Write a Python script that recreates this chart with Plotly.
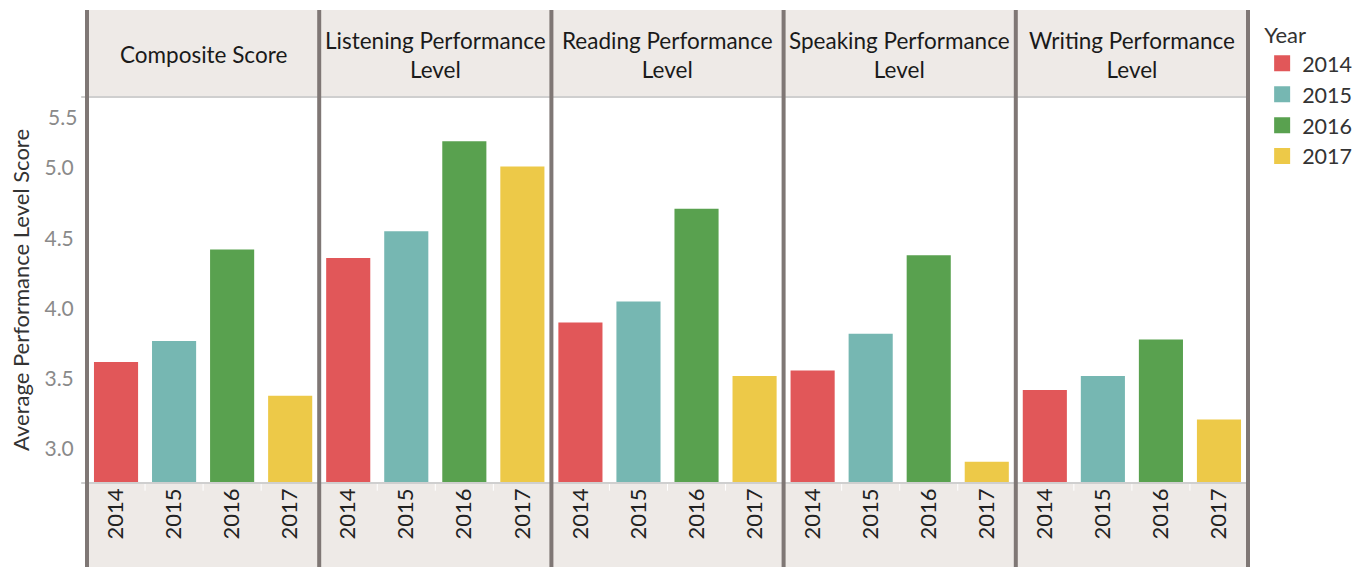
import plotly.graph_objects as go
from plotly.subplots import make_subplots

panels = ["Composite Score", "Listening Performance<br>Level", "Reading Performance<br>Level",
          "Speaking Performance<br>Level", "Writing Performance<br>Level"]
years = ["2014", "2015", "2016", "2017"]
colors = ["#E15759", "#76B7B2", "#59A14F", "#EDC948"]

composite = [3.62, 3.77, 4.42, 3.38]
listening = [4.36, 4.55, 5.19, 5.01]
reading = [3.90, 4.05, 4.71, 3.52]
speaking = [3.56, 3.82, 4.38, 2.91]
writing = [3.42, 3.52, 3.78, 3.21]
series = [composite, listening, reading, speaking, writing]

y_ticks = [3.0, 3.5, 4.0, 4.5, 5.0]
y_top_tick = 5.5
y_range = [2.759, 5.505]

FONT = "Lato"
SEP = "#7F7775"
BAND = "#EEEAE7"
TICK_GREY = "#8a8a8a"

fig = make_subplots(rows=1, cols=5, shared_yaxes=True, horizontal_spacing=0)

for i, vals in enumerate(series):
    fig.add_trace(go.Bar(x=years, y=vals, marker=dict(color=colors, line=dict(width=0)),
                         showlegend=False, hovertemplate="%{x}: %{y:.2f}<extra></extra>"),
                  row=1, col=i + 1)

for yr, c in zip(years, colors):
    fig.add_trace(go.Scatter(x=[None], y=[None], mode="markers", name=yr,
                             marker=dict(symbol="square", size=20, color=c)), row=1, col=1)

for i in range(5):
    ax = "xaxis" if i == 0 else f"xaxis{i+1}"
    fig.layout[ax].update(type="category", tickangle=-90, showgrid=False, zeroline=False,
                          showline=False, ticks="", ticklabelstandoff=0,
                          tickfont=dict(family=FONT, size=22, color="#222222"),
                          fixedrange=True)
    xr = "x domain" if i == 0 else f"x{i+1} domain"
    fig.add_annotation(text=panels[i], xref=xr, x=0.5, yref="paper", y=1.109,
                       showarrow=False, font=dict(family=FONT, size=22.5, color="#1a1a1a"),
                       xanchor="center", yanchor="middle", align="center")
    for k in (0.25, 0.5, 0.75):
        fig.add_shape(type="line", xref=xr, x0=k, x1=k, yref="paper", y0=0, y1=-0.02,
                      line=dict(color="#FFFFFF", width=1), layer="above")

fig.update_yaxes(range=y_range, tickvals=y_ticks, ticktext=[f"{v:.1f}" for v in y_ticks],
                 showgrid=False, zeroline=False, showline=False, fixedrange=True)
fig.update_yaxes(row=1, col=1, ticks="outside", ticklen=8, tickcolor="rgba(0,0,0,0)",
                 tickfont=dict(family=FONT, size=21, color=TICK_GREY),
                 title=dict(text="Average Performance Level Score", standoff=8,
                            font=dict(family=FONT, size=22, color="#333333")))
# top tick label is nudged inside the pane (as Tableau does at the axis edge)
fig.add_annotation(text=f"{y_top_tick:.1f}", xref="paper", x=0, xanchor="right", xshift=-8,
                   yref="y", y=y_top_tick, yanchor="top", yshift=-4, showarrow=False,
                   font=dict(family=FONT, size=21, color=TICK_GREY))

bot_band = -84 / 386
fig.add_shape(type="rect", xref="paper", yref="paper", x0=0, x1=1, y0=1, y1=1.2254,
              fillcolor=BAND, line=dict(width=0), layer="below")
fig.add_shape(type="rect", xref="paper", yref="paper", x0=0, x1=1, y0=bot_band, y1=0,
              fillcolor=BAND, line=dict(width=0), layer="below")
for yv in (0, 1):
    fig.add_shape(type="line", xref="paper", yref="paper", x0=-0.005, x1=1, y0=yv, y1=yv,
                  line=dict(color="#CFCFCF", width=2), layer="above")
for k in range(6):
    fig.add_shape(type="line", xref="paper", yref="paper", x0=k / 5, x1=k / 5,
                  y0=bot_band, y1=1.2254, line=dict(color=SEP, width=4), layer="above")

fig.update_layout(
    width=1363, height=567,
    margin=dict(l=87, r=115, t=97, b=84, autoexpand=False),
    plot_bgcolor="white", paper_bgcolor="white",
    bargap=0.24, barmode="relative",
    font=dict(family=FONT, size=22, color="#333333"),
    legend=dict(xref="container", yref="container", x=0.926, xanchor="left",
                y=0.975, yanchor="top",
                title=dict(text="Year", font=dict(family=FONT, size=22, color="#333333")),
                font=dict(family=FONT, size=21.5, color="#333333"),
                itemsizing="trace", tracegroupgap=0, bgcolor="rgba(0,0,0,0)"),
)

fig.write_html("out.html", config={"displayModeBar": False},
               post_script="document.body.style.margin='0';")
